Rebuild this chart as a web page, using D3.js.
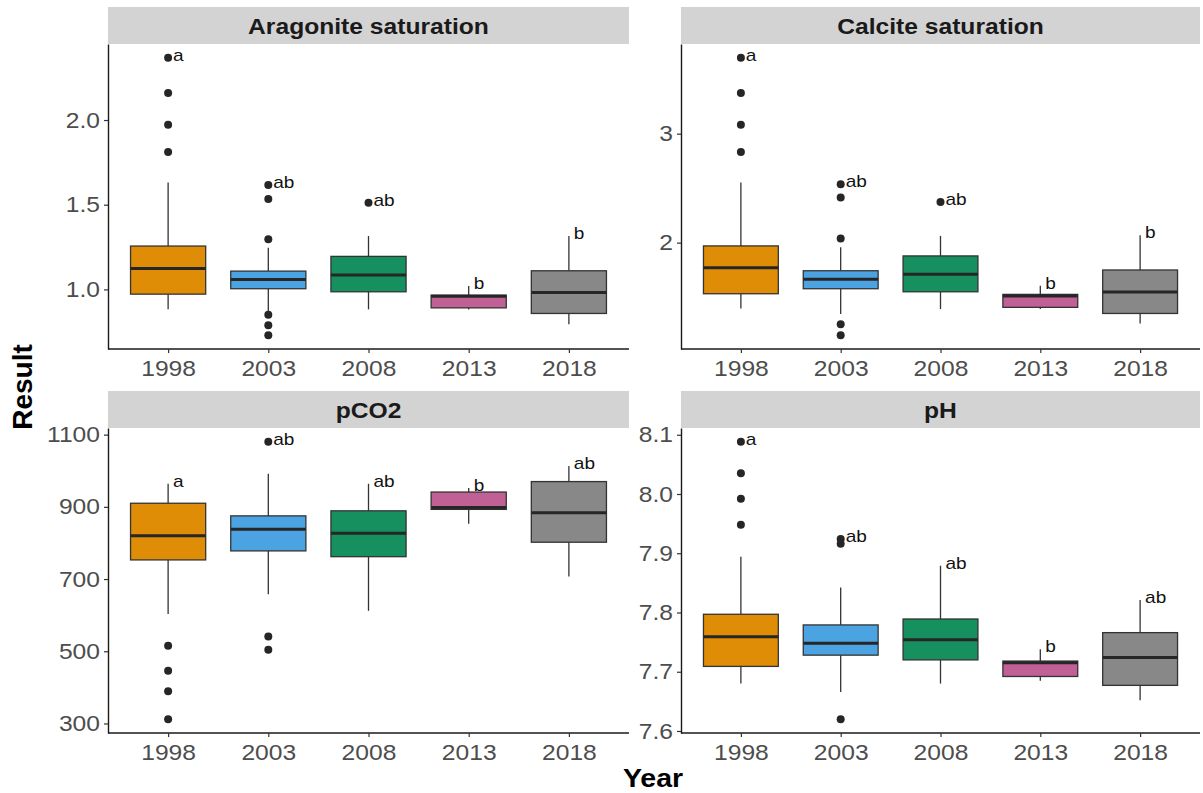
<!DOCTYPE html>
<html>
<head>
<meta charset="utf-8">
<script src="https://cdn.jsdelivr.net/npm/d3@7"></script>
<style>
body { margin: 0; background: #fff; }
text { font-family: "Liberation Sans", Arial, sans-serif; }
</style>
</head>
<body>
<svg id="chart" width="1203" height="793"></svg>
<script>
const years = ["1998", "2003", "2008", "2013", "2018"];
const fills = ["#df8c06", "#4ba4e1", "#16905f", "#c06095", "#888888"];

// each box: [lower whisker, q1, median, q3, upper whisker]
const aragoniteStats = [[0.883, 0.972, 1.124, 1.256, 1.631], [0.867, 1.004, 1.059, 1.108, 1.246],
  [0.882, 0.986, 1.085, 1.195, 1.315], [0.882, 0.891, 0.960, 0.966, 1.020], [0.795, 0.858, 0.982, 1.110, 1.315]];
const aragoniteOutliers = [[2.367, 2.160, 1.972, 1.811], [1.617, 1.534, 1.296, 0.850, 0.789, 0.730], [1.512], [], []];
const aragoniteLetters = ["a", "ab", "ab", "b", "b"];
const aragoniteTicks = [1.0, 1.5, 2.0];

const calciteStats = [[1.396, 1.531, 1.770, 1.970, 2.552], [1.344, 1.577, 1.663, 1.742, 1.958],
  [1.390, 1.549, 1.709, 1.878, 2.062], [1.390, 1.406, 1.510, 1.525, 1.604], [1.258, 1.350, 1.546, 1.749, 2.068]];
const calciteOutliers = [[3.696, 3.374, 3.083, 2.832], [2.537, 2.414, 2.037, 1.252, 1.151], [2.372], [], []];
const calciteLetters = ["a", "ab", "ab", "b", "b"];
const calciteTicks = [2, 3];

const pco2Stats = [[603, 753, 820, 910, 964], [658, 778, 838, 875, 992],
  [612, 762, 827, 889, 964], [853, 893, 898, 941, 952], [707, 802, 884, 970, 1013]];
const pco2Outliers = [[515, 446, 389, 312], [1080, 541, 504], [], [], []];
const pco2Letters = ["a", "ab", "ab", "b", "ab"];
const pco2Ticks = [300, 500, 700, 900, 1100];

const phStats = [[7.680, 7.709, 7.759, 7.797, 7.894], [7.666, 7.728, 7.748, 7.779, 7.842],
  [7.680, 7.720, 7.754, 7.789, 7.879], [7.685, 7.692, 7.715, 7.718, 7.738], [7.652, 7.677, 7.724, 7.766, 7.821]];
const phOutliers = [[8.088, 8.035, 7.992, 7.948], [7.924, 7.916, 7.620], [], [], []];
const phLetters = ["a", "ab", "ab", "b", "ab"];
const phTicks = [7.6, 7.7, 7.8, 7.9, 8.0, 8.1];

const panels = [
  {title: "Aragonite saturation", stats: aragoniteStats, outliers: aragoniteOutliers, letters: aragoniteLetters, ticks: aragoniteTicks, fmt: d3.format(".1f")},
  {title: "Calcite saturation", stats: calciteStats, outliers: calciteOutliers, letters: calciteLetters, ticks: calciteTicks, fmt: d3.format("d")},
  {title: "pCO2", stats: pco2Stats, outliers: pco2Outliers, letters: pco2Letters, ticks: pco2Ticks, fmt: d3.format("d")},
  {title: "pH", stats: phStats, outliers: phOutliers, letters: phLetters, ticks: phTicks, fmt: d3.format(".1f")}
];

const svg = d3.select("#chart");
const colX = [[108, 629], [681, 1200]];
const rowY = [[7, 44, 349], [391, 428, 733]];

// the reference text is a little wider than the font; stretch around the anchor
function widen(sel, k) {
  sel.each(function() {
    const ax = +this.getAttribute("x") || 0;
    d3.select(this).attr("transform", `translate(${ax},0) scale(${k},1) translate(${-ax},0)`);
  });
}

panels.forEach((p, i) => {
  const [x0, x1] = colX[i % 2];
  const [s0, y0, y1] = rowY[Math.floor(i / 2)];
  const all = p.stats.flat().concat(p.outliers.flat());
  const lo = d3.min(all), hi = d3.max(all), pad = (hi - lo) * 0.05;
  const y = d3.scaleLinear().domain([lo - pad, hi + pad]).range([y1, y0]);
  const x = d3.scalePoint().domain(years).range([x0, x1]).padding(0.6);
  const bw = x.step() * 0.75;
  const g = svg.append("g");

  // strip
  g.append("rect").attr("x", x0).attr("y", s0).attr("width", x1 - x0).attr("height", y0 - s0)
    .attr("fill", "#d3d3d3");
  g.append("text").attr("x", (x0 + x1) / 2).attr("y", (s0 + y0) / 2 + 1)
    .attr("text-anchor", "middle").attr("dominant-baseline", "central")
    .attr("font-size", 22).attr("font-weight", "bold").attr("fill", "#1a1a1a").text(p.title)
    .call(widen, 1.12);

  const boxes = g.selectAll(".box").data(years).join("g").attr("class", "box");
  boxes.append("line").attr("x1", d => x(d)).attr("x2", d => x(d))
    .attr("y1", (d, j) => y(p.stats[j][4])).attr("y2", (d, j) => y(p.stats[j][3]))
    .attr("stroke", "#333").attr("stroke-width", 1.3);
  boxes.append("line").attr("x1", d => x(d)).attr("x2", d => x(d))
    .attr("y1", (d, j) => y(p.stats[j][1])).attr("y2", (d, j) => y(p.stats[j][0]))
    .attr("stroke", "#333").attr("stroke-width", 1.3);
  boxes.append("rect").attr("x", d => x(d) - bw / 2).attr("width", bw)
    .attr("y", (d, j) => y(p.stats[j][3]))
    .attr("height", (d, j) => y(p.stats[j][1]) - y(p.stats[j][3]))
    .attr("fill", (d, j) => fills[j]).attr("stroke", "#333").attr("stroke-width", 1.3);
  boxes.append("line").attr("x1", d => x(d) - bw / 2).attr("x2", d => x(d) + bw / 2)
    .attr("y1", (d, j) => y(p.stats[j][2])).attr("y2", (d, j) => y(p.stats[j][2]))
    .attr("stroke", "#262626").attr("stroke-width", 3);
  boxes.selectAll("circle").data((d, j) => p.outliers[j].map(v => [d, v])).join("circle")
    .attr("cx", d => x(d[0])).attr("cy", d => y(d[1])).attr("r", 4).attr("fill", "#262626");
  boxes.append("text")
    .attr("x", d => x(d) + 5)
    .attr("y", (d, j) => y(d3.max(p.stats[j].concat(p.outliers[j]))) - 1.5)
    .attr("dominant-baseline", "middle").attr("font-size", 17).attr("fill", "#111")
    .text((d, j) => p.letters[j])
    .call(widen, 1.12);

  const ya = g.append("g").attr("transform", `translate(${x0},0)`)
    .call(d3.axisLeft(y).tickValues(p.ticks).tickFormat(p.fmt).tickSize(4).tickPadding(4).tickSizeOuter(0));
  const xa = g.append("g").attr("transform", `translate(0,${y1})`)
    .call(d3.axisBottom(x).tickSize(4).tickPadding(7).tickSizeOuter(0));
  xa.select(".domain").attr("d", `M${x0},0H${x1}`);
  [ya, xa].forEach(a => {
    a.select(".domain").attr("stroke", "#1a1a1a").attr("stroke-width", 1.4);
    a.selectAll(".tick line").attr("stroke", "#333").attr("stroke-width", 1.2);
    a.selectAll(".tick text").attr("font-size", 22).attr("fill", "#4d4d4d")
      .attr("font-family", "Liberation Sans, Arial, sans-serif")
      .call(widen, 1.12);
  });
});

svg.append("text").attr("transform", "translate(32,387) rotate(-90)")
  .attr("text-anchor", "middle").attr("font-size", 28).attr("font-weight", "bold").text("Result");
svg.append("text").attr("x", 653).attr("y", 787)
  .attr("text-anchor", "middle").attr("font-size", 25).attr("font-weight", "bold").text("Year")
  .call(widen, 1.14);
</script>
</body>
</html>
